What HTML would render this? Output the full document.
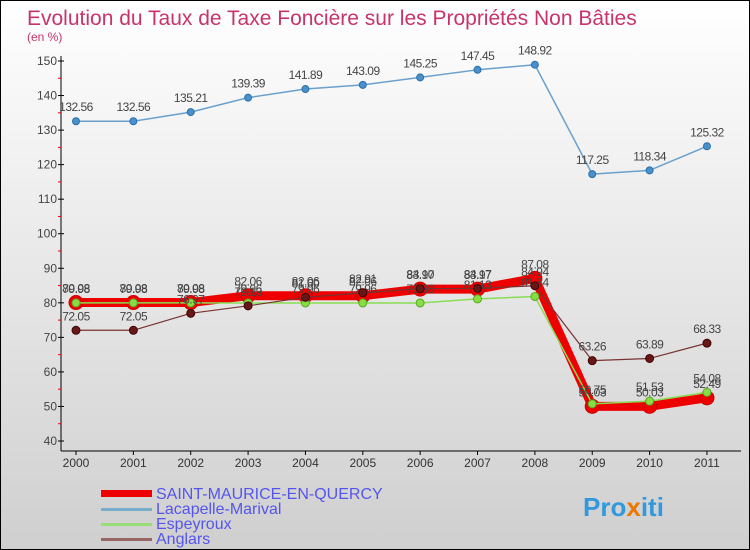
<!DOCTYPE html>
<html><head><meta charset="utf-8"><style>
body{margin:0}
#c{width:750px;height:550px;position:relative;overflow:hidden;background:linear-gradient(#ffffff,#cfcfcf);border:1px solid #000;box-sizing:border-box;font-family:"Liberation Sans",sans-serif}
</style></head><body>
<div id="c">
<svg width="750" height="550" id="s">
<text x="26" y="24" font-size="21" fill="#c8336b">Evolution du Taux de Taxe Foncière sur les Propriétés Non Bâties</text>
<text x="26" y="40" font-size="12" fill="#c8336b">(en %)</text>
<g id="ax"></g><g id="ser"></g>
<g font-size="16" fill="#5555ee">
<rect x="100" y="489" width="51" height="7" fill="#ee0000"/>
<text x="155" y="498">SAINT-MAURICE-EN-QUERCY</text>
<rect x="100" y="507" width="51" height="3" fill="#7aaccc"/>
<text x="155" y="513">Lacapelle-Marival</text>
<rect x="100" y="522" width="51" height="3" fill="#99dd77"/>
<text x="155" y="528">Espeyroux</text>
<rect x="100" y="537" width="51" height="3" fill="#996666"/>
<text x="155" y="543">Anglars</text>
</g>
<text x="582" y="515" font-size="26" font-weight="bold" fill="#3399dd">Pro<tspan fill="#ee7700">x</tspan>iti</text>
</svg></div>
<script>
const years=[2000,2001,2002,2003,2004,2005,2006,2007,2008,2009,2010,2011];
const yTicks=[40,50,60,70,80,90,100,110,120,130,140,150];
const saint=[80.08,80.08,80.08,82.06,82.06,82.06,83.97,83.97,87.08,50.03,50.03,52.49];
const lacap=[132.56,132.56,135.21,139.39,141.89,143.09,145.25,147.45,148.92,117.25,118.34,125.32];
const espey=[79.98,79.98,79.98,79.96,79.96,79.96,79.96,81.13,81.84,50.75,51.53,54.08];
const anglars=[72.05,72.05,76.97,79.13,81.6,82.91,84.1,84.17,84.94,63.26,63.89,68.33];
const NS="http://www.w3.org/2000/svg";
const X=i=>75+i*57.36, Y=v=>60+(150-v)*380/110;
function mk(t,a,p){const e=document.createElementNS(NS,t);for(const k in a)e.setAttribute(k,a[k]);p.appendChild(e);return e;}
const ax=document.getElementById('ax'), ser=document.getElementById('ser');
const yl=mk('line',{x1:60,y1:55,x2:60,y2:450,stroke:'#000'},ax);


const xl=mk('line',{x1:60,y1:450,x2:740,y2:450,stroke:'#000'},ax);


yTicks.forEach(v=>{
 mk('line',{x1:57,x2:63,y1:Y(v),y2:Y(v),stroke:'#000'},ax);
 if(v<150)mk('line',{x1:57,x2:60,y1:Y(v+5),y2:Y(v+5),stroke:'#e00'},ax);
 const t=mk('text',{x:56,y:Y(v)+4,'font-size':12,fill:'#444','text-anchor':'end'},ax);t.textContent=v;
 
 
});
years.forEach((y,i)=>{
 mk('line',{x1:X(i),x2:X(i),y1:450,y2:454,stroke:'#000'},ax);
 const t=mk('text',{x:X(i),y:466,'font-size':12,fill:'#333','text-anchor':'middle'},ax);t.textContent=y;
 
 
});
function series(d,name,col,w,r,dot,dotStroke){
 const g=mk('g',{},ser);
 
 
 mk('polyline',{points:d.map((v,i)=>X(i)+','+Y(v)).join(' '),fill:'none',stroke:col,'stroke-width':w,'stroke-linejoin':'round'},g);
 d.forEach((v,i)=>{
  const c=mk('circle',{cx:X(i),cy:Y(v),r:r,fill:dot,stroke:dotStroke,'stroke-width':1},g);
  
  
  const t=mk('text',{x:X(i),y:Y(v)-10,'font-size':12,fill:'#444','text-anchor':'middle','letter-spacing':'-0.5'},g);
  t.textContent=v.toFixed(2);
  
  
 });
}
series(lacap,'lacapelle','#6aa0cc',1.5,3.5,'#4a90cc','#2a70aa');
series(saint,'saint-maurice','#ee0000',9,7,'#ee0000','#cc0000');
series(espey,'espeyroux','#88dd55',1.5,4,'#88dd44','#55aa22');
series(anglars,'anglars','#773333',1.2,4,'#661818','#440000');
</script>
</body></html>
